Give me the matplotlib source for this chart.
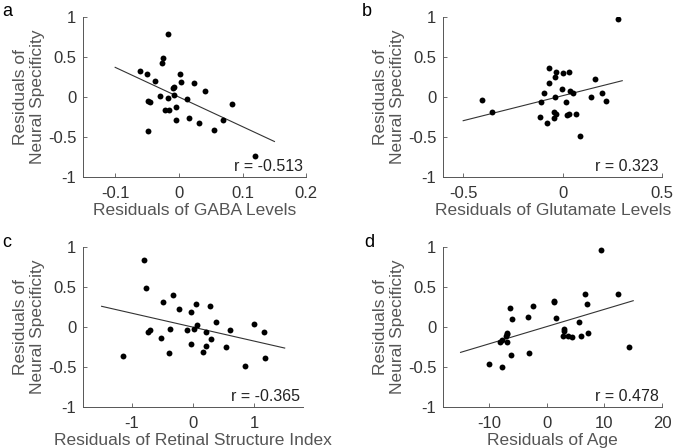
import matplotlib
matplotlib.use('Agg')
import matplotlib.pyplot as plt
import numpy as np

plt.rcParams['font.family'] = ['Liberation Sans', 'DejaVu Sans']

# panel a: GABA
gaba_x = [-0.0167, -0.0245, -0.0266, -0.0604, -0.0505, 0.0016, -0.037, 0.0036, 0.024, -0.0099,
          -0.0073, 0.0417, -0.0297, -0.0073, -0.0167, 0.0125, -0.048, -0.046, 0.084, -0.004,
          -0.021, -0.0156, -0.004, 0.016, 0.032, 0.069, 0.055, -0.048, 0.120]
gaba_y = [0.779, 0.483, 0.421, 0.321, 0.283, 0.283, 0.2, 0.1875, 0.175, 0.1125,
          0.1167, 0.071, 0.004, 0.025, -0.021, -0.033, -0.054, -0.071, -0.092, -0.125,
          -0.167, -0.167, -0.29, -0.27, -0.33, -0.29, -0.417, -0.43, -0.742]

# panel b: glutamate
glu_x = [0.280, -0.066, -0.033, 0.0, 0.033, -0.036, 0.164, -0.069, -0.003, 0.039,
         0.054, -0.092, 0.196, -0.036, 0.145, -0.405, -0.107, 0.016, 0.219, -0.354,
         -0.044, -0.031, 0.031, 0.020, 0.067, -0.112, -0.044, -0.076, 0.090]
glu_y = [0.975, 0.358, 0.308, 0.292, 0.304, 0.242, 0.221, 0.171, 0.092, 0.071,
         0.05, 0.042, 0.05, 0.0, -0.008, -0.042, -0.067, -0.067, -0.05, -0.1875,
         -0.196, -0.221, -0.2125, -0.233, -0.2125, -0.25, -0.2625, -0.333, -0.492]

# panel c: retinal structure index
rsi_x = [-0.806, -0.780, -0.323, -0.5, 0.054, 0.269, -0.226, -0.032, 0.371, 1.005,
         0.070, -0.387, 0.016, -0.704, -0.737, -0.102, 0.204, 0.597, 1.161, -0.532,
         0.285, -0.032, 0.215, 0.532, -0.392, 0.167, -1.145, 1.177, 0.855]
rsi_y = [0.833, 0.479, 0.396, 0.308, 0.283, 0.2625, 0.217, 0.183, 0.054, 0.0375,
         0.025, -0.029, -0.025, -0.0375, -0.0625, -0.046, -0.071, -0.046, -0.071, -0.146,
         -0.154, -0.217, -0.2375, -0.25, -0.329, -0.321, -0.371, -0.3875, -0.4875]

# panel d: age
age_x = [9.40, 6.65, 12.38, 1.26, 1.32, 7.05, -2.46, -6.36, -3.27, -6.02,
         1.60, 5.50, 2.92, 2.92, -6.88, -6.99, -7.16, 7.11, 2.81, 3.72,
         4.30, 5.85, -6.88, -7.74, -8.14, -3.15, -6.25, 14.21, -10.14, -7.85]
age_y = [0.9625, 0.404, 0.408, 0.317, 0.308, 0.283, 0.258, 0.229, 0.121, 0.092,
         0.104, 0.058, -0.033, -0.05, -0.075, -0.092, -0.1125, -0.075, -0.121, -0.121,
         -0.125, -0.121, -0.1875, -0.171, -0.196, -0.325, -0.35, -0.258, -0.4625, -0.504]

# fitted lines: x range and y at both ends
fit_x = [[-0.1, 0.15], [-0.5, 0.3], [-1.5, 1.5], [-15, 15]]
fit_y = [[0.367, -0.56], [-0.30, 0.20], [0.255, -0.267], [-0.321, 0.325]]

r_values = ['-0.513', '0.323', '-0.365', '0.478']
xlabels = ['Residuals of GABA Levels', 'Residuals of Glutamate Levels',
           'Residuals of Retinal Structure Index', 'Residuals of Age']
letters = ['a', 'b', 'c', 'd']
xlims = [(-0.15, 0.2), (-0.6, 0.5), (-1.8, 1.8), (-18, 20)]
xticks = [[-0.1, 0, 0.1, 0.2], [-0.5, 0, 0.5], [-1, 0, 1], [-10, 0, 10, 20]]
xticklabels = [['-0.1', '0', '0.1', '0.2'], ['-0.5', '0', '0.5'], ['-1', '0', '1'],
               ['-10', '0', '10', '20']]
yticks = [-1, -0.5, 0, 0.5, 1]
yticklabels = ['-1', '-0.5', '0', '0.5', '1']

xs = [gaba_x, glu_x, rsi_x, age_x]
ys = [gaba_y, glu_y, rsi_y, age_y]

W, H = 674, 448
# axes boxes in pixels: left, right, top, bottom
boxes = [(83.3, 306.3, 16.7, 176.7), (443.3, 662.0, 16.7, 176.7),
         (83.3, 303.0, 246.7, 406.7), (443.3, 662.0, 246.7, 406.7)]
letter_pos = [(2, 12), (362, 12), (2, 242), (364, 242)]

fig = plt.figure(figsize=(W / 100, H / 100), dpi=100)

for i in range(4):
    l, r, t, b = boxes[i]
    ax = fig.add_axes([l / W, 1 - b / H, (r - l) / W, (b - t) / H])
    ax.scatter(xs[i], ys[i], s=18, color='black', zorder=3, linewidths=0)
    ax.plot(fit_x[i], fit_y[i], color='#333333', linewidth=0.8)
    ax.set_xlim(*xlims[i])
    ax.set_ylim(-1, 1)
    ax.set_xticks(xticks[i])
    ax.set_xticklabels(xticklabels[i])
    ax.set_yticks(yticks)
    ax.set_yticklabels(yticklabels)
    for side in ['top', 'right']:
        ax.spines[side].set_visible(False)
    for side in ['left', 'bottom']:
        ax.spines[side].set_color('#555555')
        ax.spines[side].set_linewidth(0.7)
    ax.tick_params(direction='in', length=3, width=0.6, color='#555555',
                   labelsize=12, labelcolor='#333333')
    ax.tick_params(axis='x', pad=7)
    ax.tick_params(axis='y', pad=5)
    ax.set_xlabel(xlabels[i], fontsize=12.5, color='#555555', labelpad=1)
    ax.set_ylabel('Residuals of\nNeural Specificity', fontsize=12.5, color='#555555',
                  linespacing=1.15, labelpad=2)
    ax.text(0.985, 0.015, 'r = ' + r_values[i], transform=ax.transAxes,
            ha='right', va='bottom', fontsize=11.5, color='#222222')
    fig.text(letter_pos[i][0] / W, 1 - letter_pos[i][1] / H, letters[i],
             fontsize=13, color='black', ha='left', va='center')

fig.savefig('out.png', dpi=100)
